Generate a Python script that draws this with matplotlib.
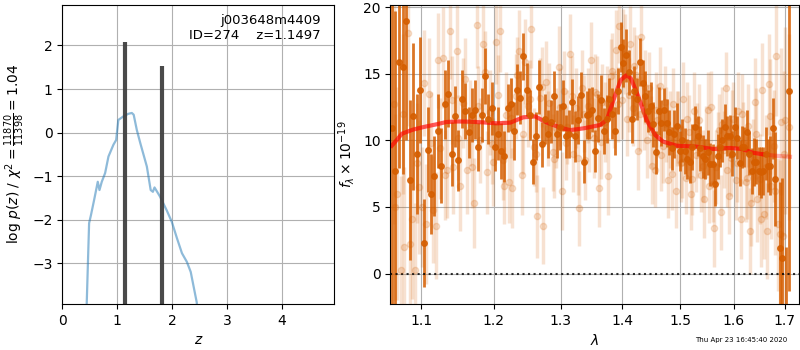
import numpy as np
import matplotlib
matplotlib.use('Agg')
import matplotlib.pyplot as plt
from matplotlib.ticker import FixedLocator, ScalarFormatter, NullLocator

# ---- 左圖: log p(z) ----
z_grid = [0.43, 0.487, 0.52, 0.578, 0.645, 0.676, 0.718, 0.779, 0.84, 0.93, 0.98,
          1.02, 1.11, 1.20, 1.266, 1.30, 1.357, 1.42, 1.54, 1.61, 1.65, 1.68,
          1.78, 1.90, 1.995, 2.09, 2.18, 2.27, 2.34, 2.45, 2.48]
log_pz = [-4.5, -2.08, -1.9, -1.55, -1.13, -1.32, -1.13, -0.93, -0.55, -0.28, -0.17,
          0.29, 0.37, 0.43, 0.45, 0.41, 0.06, -0.24, -0.78, -1.32, -1.36, -1.26,
          -1.47, -1.78, -2.05, -2.43, -2.77, -2.97, -3.2, -3.9, -4.5]
z_peaks = [1.147, 1.825]
peak_height = [2.07, 1.52]

# ---- 右圖: G141 光譜 ----
dark_start, light_start, light2_start, dlam = 1.062, 1.0643, 1.0666, 0.00465
dark_flux = [10.9, 7.7, 15.9, 15.5, 19.0, 7.0, 11.8, 9.0, 13.8, 2.3,
             9.3, 6.0, 7.3, 10.7, 8.1, 12.7, 13.5, 9.0, 11.8, 8.5,
             13.1, 12.2, 10.6, 11.9, 12.3, 9.5, 11.9, 14.8, 11.6, 12.4,
             9.5, 10.5, 9.2, 8.8, 12.4, 12.7, 10.7, 13.8, 13.2, 16.3,
             13.8, 11.9, 8.4, 10.3, 14.0, 9.7, 11.6, 10.5, 11.4, 13.3,
             10.5, 11.0, 12.6, 10.3, 10.5, 12.9, 10.3, 11.5, 13.4, 8.4,
             11.9, 12.0, 12.3, 9.2, 11.7, 13.0, 10.7, 11.6, 13.1, 12.0,
             10.7, 13.7, 17.0, 15.8, 16.4, 15.1, 11.6, 13.7, 13.1, 15.9,
             14.3, 13.3, 12.2, 12.6, 11.2, 9.1, 12.2, 11.3, 12.3, 11.3,
             10.6, 9.4, 10.5, 11.1, 9.2, 10.0, 9.2, 8.6, 8.4, 9.5,
             11.0, 10.3, 9.4, 8.8, 8.6, 9.1, 8.2, 8.2, 6.7, 8.8,
             9.5, 10.0, 11.0, 10.3, 10.3, 9.0, 11.0, 10.2, 8.3, 9.5,
             9.5, 10.6, 9.0, 7.7, 8.4, 8.4, 7.7, 7.6, 7.7, 9.0,
             8.1, 8.1, 10.9, 7.1, np.nan, 1.9, 1.2, np.nan, -3.0, 13.7]
dark_err = [14, 12, 8, 8, 9, 6, 5.5, 4.5, 4, 3.3,
            3.2, 3.0, 3.0, 2.8, 2.8, 2.6, 2.5, 2.4, 2.3, 2.3,
            2.2, 2.1, 1.9, 2.0, 2.2, 1.8, 2.0, 2.1, 1.9, 2.0,
            1.8, 2.0, 2.1, 1.9, 1.8, 2.0, 2.2, 1.9, 2.0, 1.8,
            2.0, 1.9, 1.7, 1.8, 2.0, 1.7, 1.9, 1.8, 1.6, 1.9,
            1.8, 1.7, 1.9, 1.6, 1.8, 1.7, 1.9, 1.8, 1.7, 1.6,
            1.8, 1.9, 1.7, 1.6, 1.8, 1.9, 1.7, 1.8, 1.6, 1.9,
            1.8, 1.7, 1.9, 1.8, 2.0, 1.7, 1.8, 1.9, 1.6, 1.8,
            1.7, 1.9, 1.6, 1.8, 1.7, 1.6, 1.8, 1.7, 1.6, 1.8,
            1.7, 1.6, 1.8, 1.7, 1.5, 1.6, 1.7, 1.5, 1.6, 1.7,
            1.6, 1.5, 1.7, 1.6, 1.5, 1.7, 1.6, 1.5, 1.6, 1.7,
            1.5, 1.6, 1.7, 1.5, 1.6, 1.7, 1.5, 1.6, 1.7, 1.6,
            1.5, 1.7, 1.6, 1.7, 1.8, 1.7, 1.8, 1.9, 1.8, 2.0,
            2.0, 2.2, 2.3, 3.5, np.nan, 5.0, 6.0, np.nan, 5.0, 15.0]
light_flux = [12.7, 6.0, 0.3, 2.0, 18.1, 4.1, 0.3, 6.5, 5.0, 3.7, 13.5,
              4.8, 3.6, 9.4, 16.2, 7.8, 18.2, 8.0, 16.7, 6.6, 12.8,
              7.8, 11.3, 5.3, 18.7, 10.0, 17.2, 7.6, 12.1, 8.4, 17.4,
              18.2, 8.5, 11.9, 6.9, 6.4, 13.3, 16.7, 7.4, 15.9, 12.6,
              18.4, 9.5, 4.3, 13.2, 3.6, 14.4, 12.8, 9.1, 10.9, 15.5,
              6.2, 13.7, 11.0, 16.5, 9.0, 12.4, 4.9, 13.9, 8.5, 12.6,
              16.0, 10.2, 13.5, 6.4, 12.9, 11.4, 7.3, 14.8, 12.3, 16.8,
              18.6, 13.0, 16.5, 11.6, 17.2, 12.4, 14.9, 9.2, 17.8, 12.2,
              10.0, 13.9, 8.1, 7.8, 11.5, 14.1, 9.6, 12.9, 7.0, 10.8,
              12.7, 6.2, 11.0, 8.3, 13.1, 7.2, 10.6, 6.0, 12.2, 8.9,
              11.5, 7.4, 5.6, 9.9, 6.6, 12.5, 3.4, 8.0, 10.8, 4.6,
              9.3, 13.9, 5.8, 8.7, 11.6, 7.0, 12.2, 4.1, 9.8, 6.9,
              11.1, 3.2, 8.5, 12.9, 5.6, 7.1, 13.8, 4.5, 3.2, 14.2,
              6.6, 9.6, 16.3, 3.7, 11.4, 2.8, 11.5, np.nan, np.nan]
light_err = [9, 8, 7, 6, 7, 6, 5, 5, 4.5, 4.5, 4.2,
             4.0, 4.0, 3.8, 3.8, 3.6, 3.6, 3.5, 3.5, 3.4, 3.4,
             3.3, 3.2, 3.4, 3.3, 3.2, 3.3, 3.1, 3.2, 3.3, 3.2,
             3.1, 3.0, 3.2, 3.1, 3.0, 3.2, 3.1, 3.0, 3.2, 3.1,
             3.0, 2.9, 3.1, 3.0, 2.9, 3.1, 3.0, 2.9, 3.0, 3.1,
             2.9, 3.0, 2.8, 3.0, 2.9, 3.0, 2.8, 2.9, 3.0, 2.8,
             2.9, 3.0, 2.8, 2.9, 2.8, 3.0, 2.9, 2.8, 2.9, 3.0,
             2.8, 2.9, 3.0, 2.8, 2.9, 2.8, 3.0, 2.9, 2.8, 2.9,
             2.8, 2.7, 2.9, 2.8, 2.7, 2.9, 2.8, 2.7, 2.8, 2.9,
             2.7, 2.8, 2.7, 2.9, 2.8, 2.7, 2.8, 2.7, 2.9, 2.8,
             2.7, 2.8, 2.9, 2.7, 2.8, 2.7, 2.9, 2.8, 2.7, 2.8,
             2.9, 2.7, 2.8, 2.9, 2.8, 3.0, 2.9, 3.0, 3.1, 3.0,
             3.1, 3.2, 3.1, 3.3, 3.2, 3.4, 3.5, 3.4, 3.6, 3.8,
             4.0, 4.2, 4.5, 5.0, 5.5, 6.0, 7.0, np.nan, np.nan]
# 第二組單次曝光 (每隔兩個像素)
light2_flux = [5.0, 12.0, 2.2, 8.3, 14.3, 9.8, 16.0, 7.4, 13.0, 10.2,
               14.6, 8.0, 12.6, 15.1, 9.7, 13.4, 6.6, 11.7, 14.9, 10.5,
               13.1, 9.0, 14.0, 10.9, 8.6, 12.5, 9.8, 13.3, 8.7, 12.0,
               10.4, 13.6, 9.9, 12.8, 15.2, 12.7, 16.9, 13.4, 15.6, 12.0,
               14.0, 10.6, 12.3, 8.9, 11.2, 7.5, 10.9, 8.4, 11.6, 7.1,
               10.0, 8.1, 12.3, 6.7, 9.4, 11.2, 7.8, 10.9, 8.3, 12.0,
               7.2, 5.3, 10.5, 4.1, 8.0, 11.8, 6.2, 3.0, 9.0, 11.0]
light2_err = [7, 6, 5, 4.5, 4, 3.8, 3.6, 3.4, 3.3, 3.2,
              3.1, 3.1, 3.0, 3.1, 3.0, 3.0, 2.9, 3.0, 2.9, 3.0,
              2.9, 2.9, 3.0, 2.8, 2.9, 2.9, 2.8, 3.0, 2.8, 2.9,
              2.8, 2.9, 2.8, 2.8, 2.9, 2.8, 3.0, 2.8, 2.9, 2.8,
              2.8, 2.7, 2.8, 2.7, 2.8, 2.7, 2.8, 2.7, 2.8, 2.7,
              2.8, 2.7, 2.8, 2.8, 2.7, 2.8, 2.8, 2.9, 2.9, 3.0,
              3.1, 3.2, 3.4, 3.6, 3.9, 4.3, 4.8, 5.5, 6.2, 7.0]

model_wave = [1.062, 1.068, 1.075, 1.089, 1.103, 1.120, 1.134, 1.150, 1.166, 1.185,
              1.204, 1.224, 1.243, 1.261, 1.279, 1.300, 1.315, 1.336, 1.352, 1.363,
              1.374, 1.385, 1.397, 1.407, 1.414, 1.427, 1.441, 1.456, 1.470, 1.494,
              1.530, 1.561, 1.592, 1.616, 1.637, 1.657]
model_flux = [9.6, 10.0, 10.5, 10.8, 11.0, 11.2, 11.38, 11.42, 11.4, 11.35,
              11.28, 11.33, 11.73, 11.8, 11.33, 10.95, 10.77, 10.9, 11.05, 11.15,
              11.53, 13.03, 14.53, 14.9, 14.66, 13.28, 11.53, 10.4, 9.9, 9.6,
              9.53, 9.35, 9.43, 9.35, 9.07, 8.95]
model_tail_wave = [1.657, 1.68, 1.70, 1.711]
model_tail_flux = [8.95, 8.85, 8.8, 8.77]

G141_COLOR = (0.8353, 0.3686, 0.0)

dark_wave = dark_start + dlam * np.arange(len(dark_flux))
light_wave = light_start + dlam * np.arange(len(light_flux))
light2_wave = light2_start + 2 * dlam * np.arange(len(light2_flux))

plt.rcParams['font.family'] = ['DejaVu Sans']
fig = plt.figure(figsize=(8, 3.5), dpi=100)

# 左圖
ax1 = fig.add_axes([0.078, 0.131, 0.340, 0.856])
ax1.plot(z_grid, log_pz, color='tab:blue', alpha=0.5, lw=1.6)
ax1.vlines(z_peaks, -4.5, peak_height, color='0.25', lw=3, alpha=0.95)
ax1.set_xlim(0, 4.96)
ax1.set_ylim(-3.94, 2.94)
ax1.set_xticks([0, 1, 2, 3, 4])
ax1.set_yticks([-3, -2, -1, 0, 1, 2])
ax1.grid(True)
ax1.set_xlabel(r'$z$')
ax1.set_ylabel(r'$\log\,p(z)$ / $\chi^2=\frac{11870}{11398}=1.04$')
ax1.text(0.948, 0.968, 'j003648m4409\nID=274    z=1.1497', ha='right', va='top',
         transform=ax1.transAxes, fontsize=9.5)

# 右圖
ax2 = fig.add_axes([0.488, 0.131, 0.511, 0.856])
for w, f, e in [(light_wave, light_flux, light_err), (light2_wave, light2_flux, light2_err)]:
    ax2.errorbar(w, f, yerr=e, marker='o', ms=4.5, linestyle='none',
                 color=G141_COLOR, alpha=0.18, elinewidth=2.5)
ax2.errorbar(dark_wave, dark_flux, yerr=dark_err, marker='o', ms=4,
             linestyle='none', color=G141_COLOR, alpha=0.85, elinewidth=2)
ax2.plot(model_wave, model_flux, color='red', lw=3, alpha=0.65)
ax2.plot(model_tail_wave, model_tail_flux, color='red', lw=3, alpha=0.3)
ax2.axhline(0, color='k', linestyle=':', lw=1.5, alpha=0.8)
ax2.set_xscale('log')
ax2.set_xlim(1.0603, 1.730)
ax2.set_ylim(-2.3, 20.2)
ax2.xaxis.set_major_locator(FixedLocator([1.1, 1.2, 1.3, 1.4, 1.5, 1.6, 1.7]))
ax2.xaxis.set_major_formatter(ScalarFormatter())
ax2.xaxis.set_minor_locator(NullLocator())
ax2.set_yticks([0, 5, 10, 15, 20])
ax2.grid(True)
ax2.set_xlabel(r'$\lambda$')
ax2.set_ylabel(r'$f_\lambda\times10^{-19}$')

fig.text(0.984, 0.022, 'Thu Apr 23 16:45:40 2020', ha='right', fontsize=5)

fig.savefig('out.png', dpi=100)
